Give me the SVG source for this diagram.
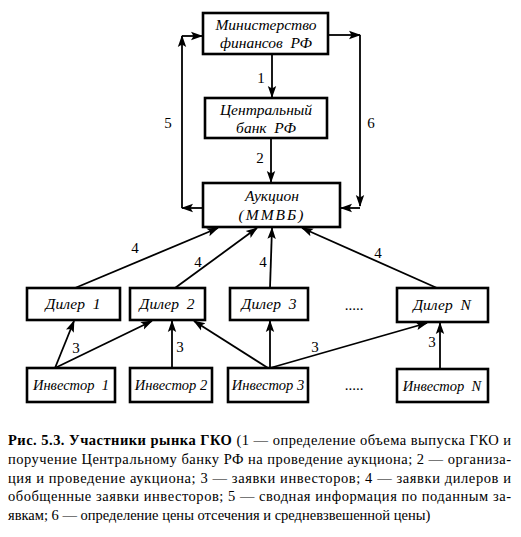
<svg xmlns="http://www.w3.org/2000/svg" width="521" height="537" viewBox="0 0 521 537">
<defs>
<marker id="ah" markerUnits="userSpaceOnUse" markerWidth="12" markerHeight="10" viewBox="0 0 12 10" refX="11" refY="5" orient="auto">
<path d="M0,0.8 L12,5 L0,9.2 L2.5,5 Z" fill="#000"/>
</marker>
<style>
.box{fill:#fff;stroke:#000;stroke-width:2.6}
.lbl{font-family:"Liberation Serif",serif;font-style:italic;font-size:15.5px;text-anchor:middle;fill:#000;white-space:pre}
.inv{font-size:14.5px}
.num{font-family:"Liberation Serif",serif;font-size:15px;text-anchor:middle;fill:#000}
.ln{stroke:#000;stroke-width:1.8;fill:none}
.ar{stroke:#000;stroke-width:1.8;fill:none;marker-end:url(#ah)}
.cap{font-family:"Liberation Serif",serif;font-size:14.5px;fill:#000}
</style>
</defs>
<rect width="521" height="537" fill="#fff"/>

<g id="connectors">
<line class="ar" x1="272" y1="55" x2="272" y2="97"/>
<line class="ar" x1="271" y1="139" x2="271" y2="182"/>
<line class="ar" x1="203" y1="208" x2="182" y2="208"/>
<line class="ar" x1="182" y1="208" x2="182" y2="36"/>
<line class="ar" x1="182" y1="36" x2="202" y2="36"/>
<line class="ar" x1="329" y1="35" x2="360" y2="35"/>
<line class="ar" x1="360" y1="35" x2="360" y2="206"/>
<line class="ar" x1="360" y1="208" x2="341" y2="208"/>
<line class="ar" x1="75" y1="288" x2="218" y2="228"/>
<line class="ar" x1="175" y1="288" x2="257" y2="228"/>
<line class="ar" x1="270" y1="288" x2="272" y2="228"/>
<line class="ar" x1="437" y1="288" x2="302" y2="228"/>
<line class="ar" x1="55" y1="368" x2="74" y2="321"/>
<line class="ar" x1="55" y1="368" x2="152" y2="321"/>
<line class="ar" x1="172" y1="368" x2="172" y2="321"/>
<line class="ar" x1="268" y1="368" x2="194" y2="321"/>
<line class="ar" x1="270" y1="368" x2="270" y2="321"/>
<line class="ar" x1="270" y1="368" x2="427" y2="323"/>
<line class="ar" x1="440" y1="369" x2="440" y2="323"/>
<text class="num" x="261" y="83">1</text>
<text class="num" x="260" y="163">2</text>
<text class="num" x="168" y="128">5</text>
<text class="num" x="371" y="128">6</text>
<text class="num" x="135" y="253">4</text>
<text class="num" x="198" y="267">4</text>
<text class="num" x="263" y="267">4</text>
<text class="num" x="378" y="258">4</text>
<text class="num" x="76" y="353">3</text>
<text class="num" x="180" y="352">3</text>
<text class="num" x="315" y="352">3</text>
<text class="num" x="432" y="347">3</text>
</g>

<g id="ministry">
<rect class="box" x="203" y="13" width="125" height="41"/>
<text class="lbl" x="266" y="30">Министерство</text>
<text class="lbl" x="266" y="48" xml:space="preserve">финансов  РФ</text>
</g>
<g id="centralbank">
<rect class="box" x="205" y="98" width="122" height="40"/>
<text class="lbl" x="266" y="115">Центральный</text>
<text class="lbl" x="266" y="133" xml:space="preserve">банк  РФ</text>
</g>
<g id="auction">
<rect class="box" x="203" y="183" width="137" height="44"/>
<text class="lbl" x="272" y="201">Аукцион</text>
<text class="lbl" x="272" y="220" letter-spacing="2">(ММВБ)</text>
</g>
<g id="dealer1">
<rect class="box" x="27" y="288" width="93" height="32"/>
<text class="lbl" x="73" y="309" xml:space="preserve">Дилер  1</text>
</g>
<g id="dealer2">
<rect class="box" x="130" y="288" width="75" height="32"/>
<text class="lbl" x="167" y="309" xml:space="preserve">Дилер  2</text>
</g>
<g id="dealer3">
<rect class="box" x="230" y="288" width="78" height="32"/>
<text class="lbl" x="269" y="309" xml:space="preserve">Дилер  3</text>
</g>
<text class="num" x="354" y="310">.....</text>
<g id="dealerN">
<rect class="box" x="397" y="288" width="91" height="34"/>
<text class="lbl" x="442" y="310" xml:space="preserve">Дилер  N</text>
</g>
<g id="investor1">
<rect class="box" x="27" y="368" width="88" height="34"/>
<text class="lbl inv" x="71" y="390" xml:space="preserve">Инвестор  1</text>
</g>
<g id="investor2">
<rect class="box" x="130" y="368" width="82" height="34"/>
<text class="lbl inv" x="171" y="390">Инвестор 2</text>
</g>
<g id="investor3">
<rect class="box" x="228" y="368" width="80" height="34"/>
<text class="lbl inv" x="268" y="390">Инвестор 3</text>
</g>
<text class="num" x="354" y="390">.....</text>
<g id="investorN">
<rect class="box" x="397" y="369" width="91" height="33"/>
<text class="lbl inv" x="442" y="391" xml:space="preserve">Инвестор  N</text>
</g>

<g id="caption">
<text class="cap" x="8" y="445" textLength="503" lengthAdjust="spacing"><tspan font-weight="bold">Рис. 5.3. Участники рынка ГКО</tspan> (1 — определение объема выпуска ГКО и</text>
<text class="cap" x="8" y="464" textLength="503" lengthAdjust="spacing">поручение Центральному банку РФ на проведение аукциона; 2 — организа-</text>
<text class="cap" x="8" y="483" textLength="503" lengthAdjust="spacing">ция и проведение аукциона; 3 — заявки инвесторов; 4 — заявки дилеров и</text>
<text class="cap" x="8" y="501" textLength="503" lengthAdjust="spacing">обобщенные заявки инвесторов; 5 — сводная информация по поданным за-</text>
<text class="cap" x="8" y="520">явкам; 6 — определение цены отсечения и средневзвешенной цены)</text>
</g>
</svg>
